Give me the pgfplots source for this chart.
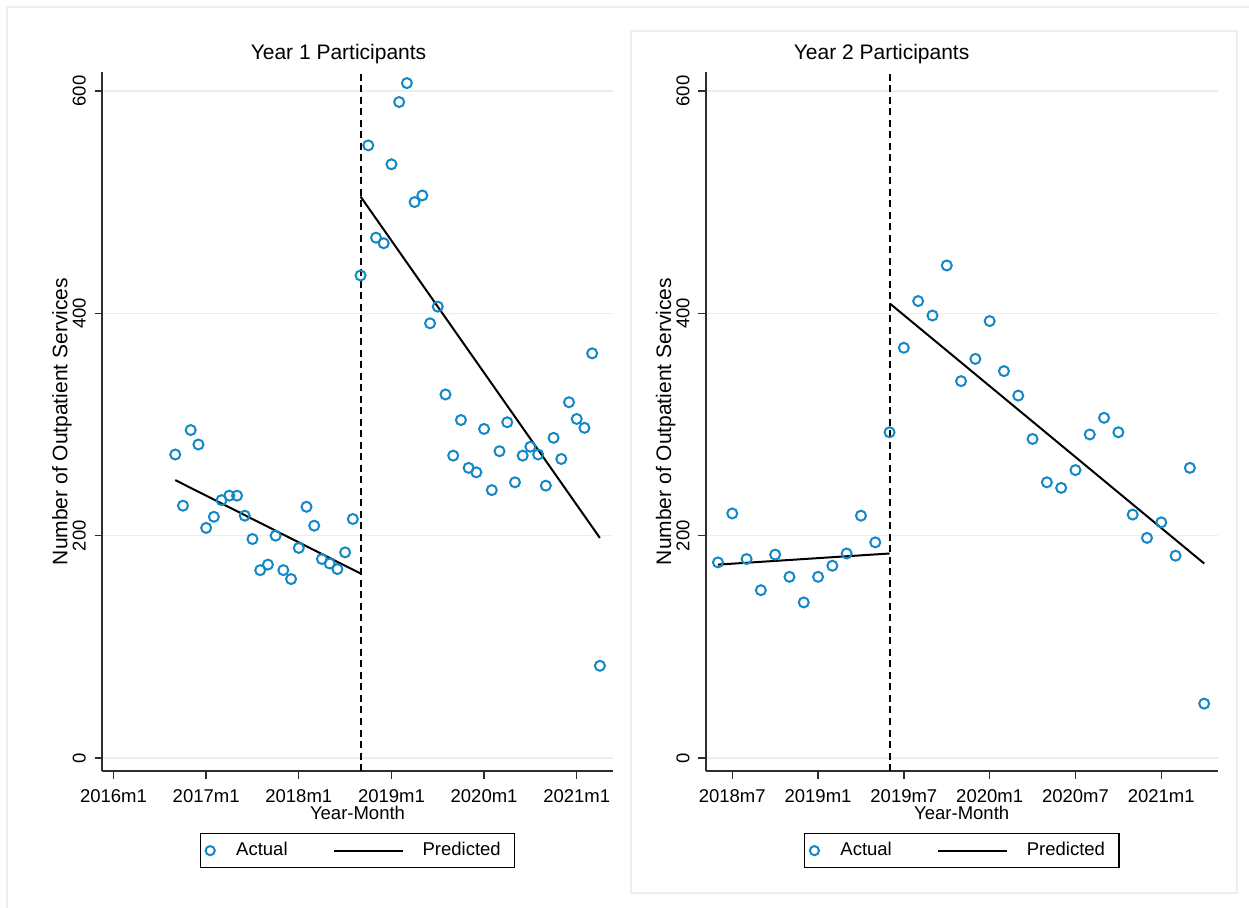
\documentclass[border=0pt]{standalone}
\usepackage{fontspec}
\setmainfont{Liberation Sans}
\usepackage{pgfplots}
\pgfplotsset{compat=1.18}
\definecolor{mk}{RGB}{20,136,198}
\definecolor{gridc}{RGB}{230,239,241}
\definecolor{framec}{RGB}{232,240,242}
\definecolor{axl}{RGB}{45,45,45}

\pgfplotsset{
  stata/.style={
    scale only axis, height=699pt,
    ymin=-11.6, ymax=617,
    axis x line*=bottom, axis y line*=left,
    axis line style={axl, line width=1.7pt, -},
    tick align=outside, major tick length=7.5pt,
    tick style={axl, line width=1.4pt},
    ytick={0,200,400,600},
    ymajorgrids, major grid style={gridc, line width=1.4pt},
    /pgf/number format/assume math mode=true,
    yticklabel style={xshift=-9pt, rotate=90, anchor=base, inner sep=0pt, font=\fontsize{18.5}{22}\selectfont},
    xticklabel style={anchor=base, inner sep=0pt, yshift=-23.6pt, font=\fontsize{18.5}{22}\selectfont},
    ylabel={Number of Outpatient Services},
    xlabel={Year-Month},
    label style={font=\fontsize{18.5}{22}\selectfont},
    ylabel style={at={(-0.0679,0.5)}, anchor=base, inner sep=0pt, font=\fontsize{21}{24}\selectfont},
    xlabel style={at={(0.5,-0.0687)}, anchor=base, inner sep=0pt},
    legend columns=2,
    legend style={at={(0.5,-0.0887)}, anchor=north, draw=black, line width=1.3pt,
      inner xsep=0pt, inner ysep=8.5pt,
      font=\fontsize{18.5}{22}\selectfont,
      nodes={inner sep=0pt, text height=13.5pt, text depth=3.5pt}},
  },
  actual/.style={only marks, mark=o, mark size=5pt,
    mark options={mk, line width=2pt},
    legend image code/.code={\path[draw=none, fill=none] (0pt,-6pt) rectangle (36pt,6pt);
      \draw[mk, line width=2pt] (10pt,0pt) circle[radius=4.6pt];}},
  pred/.style={black, line width=2pt, no marks,
    legend image code/.code={\path[draw=none, fill=none] (0pt,-6pt) rectangle (135pt,6pt);
      \draw[black, line width=2pt] (46pt,0pt) -- (115pt,0pt);}},
  cut/.style={black, line width=2pt, dash pattern=on 7pt off 4.5pt, no marks, forget plot},
}

\begin{document}
\begin{tikzpicture}
\path[use as bounding box] (0pt,0pt) rectangle (1249pt,907pt);
% frames
\draw[framec, line width=1.6pt] (7pt,-20pt) -- (7pt,900pt) -- (1270pt,900pt);
\draw[framec, line width=1.6pt] (631pt,14pt) rectangle (1237pt,876pt);

% ---------- Year 1 ----------
\begin{axis}[stata, at={(102pt,136pt)}, anchor=south west, width=511pt,
  xmin=-1.49, xmax=64.7,
  xtick={0,12,24,36,48,60},
  xticklabels={2016m1,2017m1,2018m1,2019m1,2020m1,2021m1}]
\addplot[cut] coordinates {(32,-11.6) (32,617)};
\addplot[actual] coordinates {
(8,273) (9,227) (10,295) (11,282) (12,207) (13,217) (14,232) (15,236)
(16,236) (17,218) (18,197) (19,169) (20,174) (21,200) (22,169) (23,161)
(24,189) (25,226) (26,209) (27,179) (28,175) (29,170) (30,185) (31,215)
(32,434) (33,551) (34,468) (35,463) (36,534) (37,590) (38,607) (39,500)
(40,506) (41,391) (42,406) (43,327) (44,272) (45,304) (46,261) (47,257)
(48,296) (49,241) (50,276) (51,302) (52,248) (53,272) (54,280) (55,273)
(56,245) (57,288) (58,269) (59,320) (60,305) (61,297) (62,364) (63,83)};
\addlegendentry{Actual}
\addplot[pred] coordinates {(8,250) (32,166)};
\addlegendentry{Predicted\hspace*{14pt}}
\addplot[pred, forget plot] coordinates {(32,505) (63,198)};
\end{axis}

% ---------- Year 2 ----------
\begin{axis}[stata, at={(705.8pt,136pt)}, anchor=south west, width=511.8pt,
  xmin=28.15, xmax=63.94,
  xtick={30,36,42,48,54,60},
  xticklabels={2018m7,2019m1,2019m7,2020m1,2020m7,2021m1}]
\addplot[cut] coordinates {(41,-11.6) (41,617)};
\addplot[actual] coordinates {
(29,176) (30,220) (31,179) (32,151) (33,183) (34,163) (35,140) (36,163)
(37,173) (38,184) (39,218) (40,194) (41,293) (42,369) (43,411) (44,398)
(45,443) (46,339) (47,359) (48,393) (49,348) (50,326) (51,287) (52,248)
(53,243) (54,259) (55,291) (56,306) (57,293) (58,219) (59,198) (60,212)
(61,182) (62,261) (63,49)};
\addlegendentry{Actual}
\addplot[pred] coordinates {(29,174) (41,184)};
\addlegendentry{Predicted\hspace*{14pt}}
\addplot[pred, forget plot] coordinates {(41,409) (63,175)};
\end{axis}

% titles
\node[anchor=base, inner sep=0pt, font=\fontsize{21}{25}\selectfont] at (338.5pt,847pt) {Year 1 Participants};
\node[anchor=base, inner sep=0pt, font=\fontsize{21}{25}\selectfont] at (881.6pt,847pt) {Year 2 Participants};
\end{tikzpicture}
\end{document}
